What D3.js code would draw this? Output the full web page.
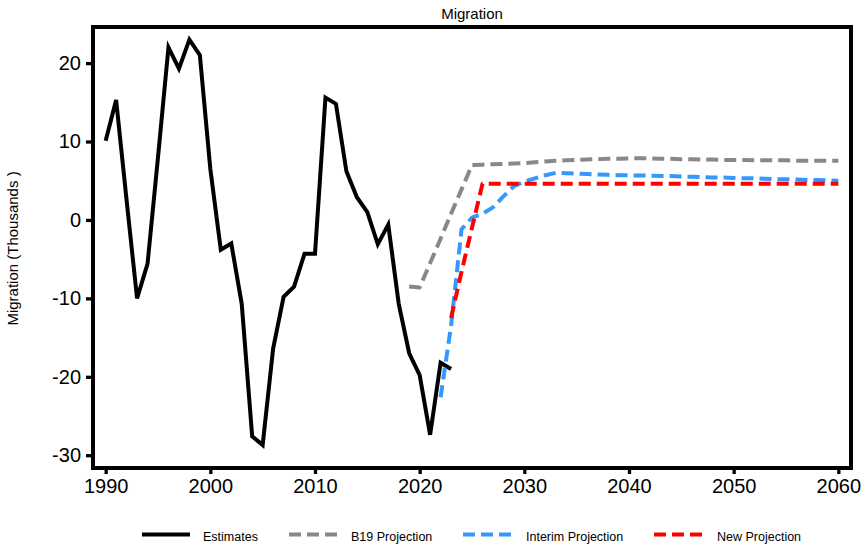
<!DOCTYPE html>
<html>
<head>
<meta charset="utf-8">
<script src="https://cdn.jsdelivr.net/npm/d3@7"></script>
<style>
  html, body { margin: 0; padding: 0; background: #fff; }
  svg { display: block; font-family: "Liberation Sans", Arial, sans-serif; }
</style>
</head>
<body>
<svg id="chart" width="866" height="545"></svg>
<script>
// ---- Data (thousands) ----
const estYears = [1990,1991,1992,1993,1994,1995,1996,1997,1998,1999,2000,2001,2002,2003,2004,2005,2006,2007,2008,2009,2010,2011,2012,2013,2014,2015,2016,2017,2018,2019,2020,2021,2022,2023];
const estValues = [10.1,15.3,2.5,-10.0,-5.6,8.0,22.0,19.3,23.0,21.0,6.5,-3.8,-3.0,-10.7,-27.6,-28.7,-16.4,-9.8,-8.5,-4.3,-4.3,15.6,14.8,6.2,2.9,1.0,-3.1,-0.6,-10.7,-17.0,-19.8,-27.4,-18.2,-19.0];

const b19Years = [2019,2020,2021,2022,2023,2024,2025,2026,2027,2028,2029,2030,2031,2032,2033,2034,2035,2036,2037,2038,2039,2040,2041,2042,2043,2044,2045,2046,2047,2048,2049,2050,2051,2052,2053,2054,2055,2056,2057,2058,2059,2060];
const b19Values = [-8.5,-8.6,-5.5,-2.4,0.8,3.9,7.0,7.05,7.1,7.15,7.2,7.25,7.35,7.45,7.55,7.6,7.65,7.7,7.75,7.8,7.8,7.85,7.85,7.85,7.8,7.8,7.75,7.75,7.7,7.7,7.65,7.65,7.65,7.6,7.6,7.6,7.6,7.55,7.55,7.55,7.55,7.55];

const interimYears = [2022,2023,2024,2025,2026,2027,2028,2029,2030,2031,2032,2033,2034,2035,2036,2037,2038,2039,2040,2041,2042,2043,2044,2045,2046,2047,2048,2049,2050,2051,2052,2053,2054,2055,2056,2057,2058,2059,2060];
const interimValues = [-22.6,-13.5,-1.2,0.3,0.8,1.6,3.0,4.3,4.9,5.3,5.7,6.0,5.95,5.9,5.85,5.8,5.75,5.7,5.7,5.65,5.65,5.6,5.6,5.55,5.5,5.45,5.4,5.4,5.35,5.3,5.3,5.25,5.2,5.2,5.15,5.1,5.1,5.05,5.0];

const newYears = [2023,2024,2025,2026,2027,2028,2029,2030,2035,2040,2045,2050,2055,2060];
const newValues = [-12.5,-6.6,-1.0,4.6,4.6,4.6,4.6,4.6,4.6,4.6,4.6,4.6,4.6,4.6];

const xTicks = [1990,2000,2010,2020,2030,2040,2050,2060];
const yTicks = [-30,-20,-10,0,10,20];

const seriesNames = ["Estimates","B19 Projection","Interim Projection","New Projection"];
const seriesColors = ["#000000","#888888","#3399ff","#ff0000"];

// ---- Layout ----
const svg = d3.select("#chart");
const pLeft = 93, pRight = 851, pTop = 27, pBottom = 468;

const x = d3.scaleLinear().domain([1988.79, 2061.21]).range([pLeft, pRight]);
const y = d3.scaleLinear().domain([-31.63, 24.6]).range([pBottom, pTop]);

const series = [
  {name: seriesNames[0], years: estYears, values: estValues, color: seriesColors[0], dash: null},
  {name: seriesNames[1], years: b19Years, values: b19Values, color: seriesColors[1], dash: "12,6"},
  {name: seriesNames[2], years: interimYears, values: interimValues, color: seriesColors[2], dash: "12,6"},
  {name: seriesNames[3], years: newYears, values: newValues, color: seriesColors[3], dash: "12,6"}
];

const line = d3.line().x(d => x(d[0])).y(d => y(d[1]));

// Lines
const gLines = svg.append("g");
series.forEach(s => {
  const pts = s.years.map((yr, i) => [yr, s.values[i]]);
  gLines.append("path")
    .attr("d", line(pts))
    .attr("fill", "none")
    .attr("stroke", s.color)
    .attr("stroke-width", 4)
    .attr("stroke-linejoin", s.dash ? "round" : "miter")
    .attr("stroke-dasharray", s.dash);
});

// Axes
const plainFmt = d => String(d);
const xAxis = d3.axisBottom(x).tickValues(xTicks).tickFormat(plainFmt).tickSize(6).tickPadding(5);
const gx = svg.append("g").attr("transform", `translate(0,${pBottom})`).call(xAxis);
gx.select(".domain").remove();
gx.selectAll(".tick line").attr("stroke", "#000").attr("stroke-width", 3.3);
gx.selectAll(".tick text").attr("font-size", 20).attr("fill", "#000").attr("font-family", "Liberation Sans, Arial, sans-serif");

const yAxis = d3.axisLeft(y).tickValues(yTicks).tickFormat(plainFmt).tickSize(7).tickPadding(5);
const gy = svg.append("g").attr("transform", `translate(${pLeft},0)`).call(yAxis);
gy.select(".domain").remove();
gy.selectAll(".tick line").attr("stroke", "#000").attr("stroke-width", 3.3);
gy.selectAll(".tick text").attr("font-size", 20).attr("fill", "#000").attr("font-family", "Liberation Sans, Arial, sans-serif");

// Panel border
svg.append("rect")
  .attr("x", pLeft).attr("y", pTop)
  .attr("width", pRight - pLeft).attr("height", pBottom - pTop)
  .attr("fill", "none").attr("stroke", "#000").attr("stroke-width", 4);

// Title
svg.append("text")
  .attr("x", (pLeft + pRight) / 2).attr("y", 19)
  .attr("text-anchor", "middle").attr("font-size", 15).attr("fill", "#000")
  .text("Migration");

// Y label
svg.append("text")
  .attr("transform", `translate(18,${(pTop + pBottom) / 2 + 1}) rotate(-90)`)
  .attr("text-anchor", "middle").attr("font-size", 15).attr("fill", "#000")
  .text("Migration (Thousands )");

// Legend
const legendItems = [
  {x0: 142, x1: 190, tx: 203},
  {x0: 289, x1: 337, tx: 351},
  {x0: 463, x1: 511, tx: 526},
  {x0: 654, x1: 702, tx: 717}
];
const gLeg = svg.append("g");
series.forEach((s, i) => {
  const it = legendItems[i];
  gLeg.append("line")
    .attr("x1", it.x0).attr("x2", it.x1).attr("y1", 534.5).attr("y2", 534.5)
    .attr("stroke", s.color).attr("stroke-width", 4)
    .attr("stroke-dasharray", s.dash);
  gLeg.append("text")
    .attr("x", it.tx).attr("y", 541)
    .attr("font-size", 12.5).attr("fill", "#000")
    .text(s.name);
});
</script>
</body>
</html>
